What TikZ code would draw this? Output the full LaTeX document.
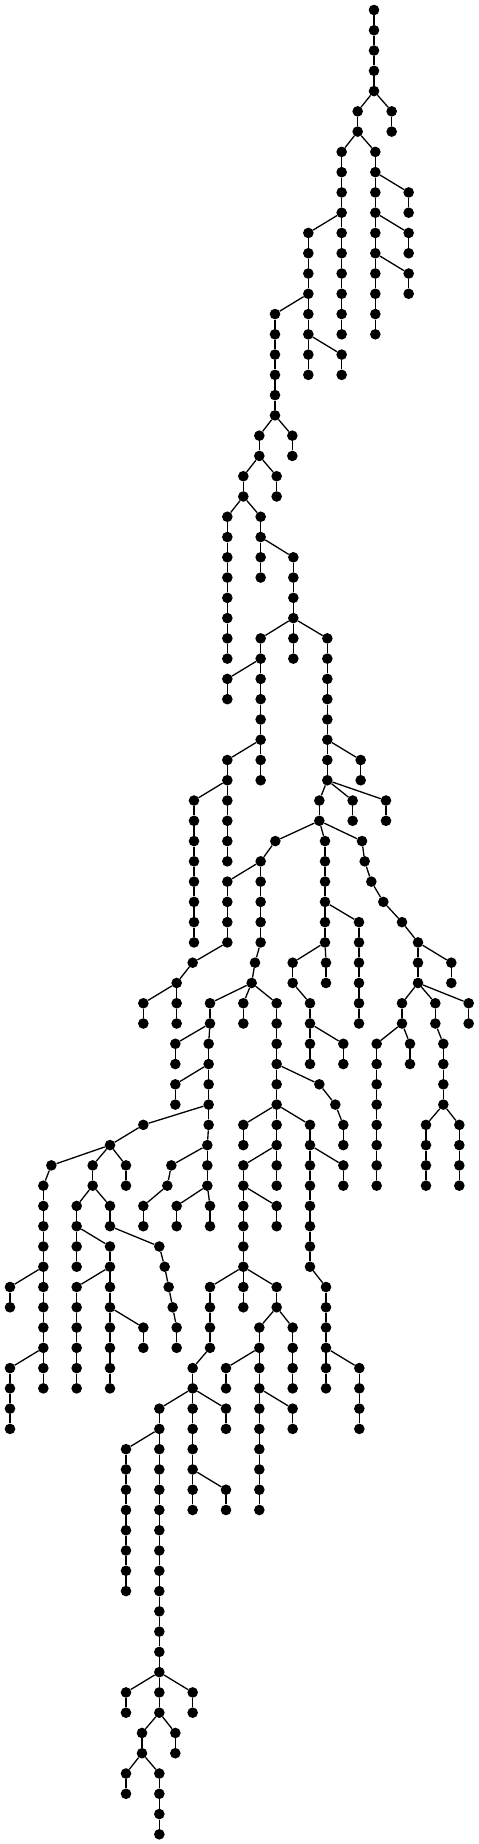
\documentclass[tikz,border=0pt]{standalone}
\usetikzlibrary{calc}
\tikzset{
  dot/.style={circle,fill=black,draw=none,inner sep=0pt,minimum size=10.6pt},
  edge/.style={draw=black,line width=1.3pt}
}
\newcommand\dotchain[3]{%
  \foreach \l in {#2,...,#3} {%
    \node[dot] (n#1x\l) at ({#1/3},{10+20.27*\l}) {};
    \ifnum\l>#2\relax
      \pgfmathtruncatemacro\p{\l-1}%
      \draw[edge] (n#1x\p) -- (n#1x\l);
    \fi
  }%
}
\newcommand\lnk[4]{\draw[edge] (n#1x#2) -- (n#3x#4);}
\begin{document}
\begin{tikzpicture}[x=1pt,y=-1pt]
\useasboundingbox (0,0) rectangle (479,1844);
\dotchain{1122}{0}{4}
\dotchain{1073}{5}{6}
\dotchain{1175}{5}{6}
\dotchain{1025}{7}{16}
\dotchain{1126}{7}{16}
\dotchain{1226}{9}{10}
\dotchain{1226}{11}{12}
\dotchain{1226}{13}{14}
\dotchain{925}{11}{18}
\dotchain{1025}{17}{18}
\dotchain{825}{15}{20}
\dotchain{877}{21}{22}
\dotchain{778}{21}{22}
\dotchain{730}{23}{24}
\dotchain{830}{23}{24}
\dotchain{682}{25}{32}
\dotchain{782}{25}{28}
\dotchain{880}{27}{32}
\dotchain{782}{31}{38}
\dotchain{682}{33}{34}
\dotchain{982}{31}{38}
\dotchain{1082}{37}{38}
\dotchain{682}{37}{42}
\dotchain{582}{39}{46}
\dotchain{958}{39}{40}
\dotchain{1058}{39}{40}
\dotchain{1158}{39}{40}
\dotchain{826}{41}{41}
\dotchain{782}{42}{46}
\dotchain{682}{43}{46}
\dotchain{975}{41}{46}
\dotchain{1077}{45}{50}
\dotchain{1086}{41}{41}
\dotchain{1094}{42}{42}
\dotchain{1114}{43}{43}
\dotchain{1150}{44}{44}
\dotchain{1206}{45}{45}
\dotchain{1254}{46}{48}
\dotchain{578}{47}{47}
\dotchain{530}{48}{50}
\dotchain{430}{49}{50}
\dotchain{765}{47}{47}
\dotchain{755}{48}{48}
\dotchain{630}{49}{50}
\dotchain{730}{49}{50}
\dotchain{830}{49}{58}
\dotchain{526}{51}{52}
\dotchain{626}{51}{55}
\dotchain{622}{56}{58}
\dotchain{526}{53}{54}
\dotchain{430}{55}{55}
\dotchain{330}{56}{56}
\dotchain{154}{57}{57}
\dotchain{130}{58}{68}
\dotchain{278}{57}{58}
\dotchain{378}{57}{58}
\dotchain{230}{59}{62}
\dotchain{330}{59}{60}
\dotchain{330}{61}{68}
\dotchain{478}{61}{61}
\dotchain{494}{62}{62}
\dotchain{506}{63}{63}
\dotchain{518}{64}{64}
\dotchain{530}{65}{66}
\dotchain{514}{57}{57}
\dotchain{502}{58}{58}
\dotchain{430}{59}{60}
\dotchain{530}{59}{60}
\dotchain{630}{59}{60}
\dotchain{730}{55}{56}
\dotchain{730}{57}{64}
\dotchain{830}{59}{60}
\dotchain{930}{55}{62}
\dotchain{1030}{57}{58}
\dotchain{958}{53}{53}
\dotchain{1006}{54}{54}
\dotchain{1030}{55}{56}
\dotchain{878}{47}{48}
\dotchain{930}{49}{52}
\dotchain{1030}{51}{52}
\dotchain{978}{47}{48}
\dotchain{1354}{47}{48}
\dotchain{1206}{49}{50}
\dotchain{1306}{49}{50}
\dotchain{1330}{51}{54}
\dotchain{1406}{49}{50}
\dotchain{1130}{51}{58}
\dotchain{1230}{51}{52}
\dotchain{1278}{55}{58}
\dotchain{1378}{55}{58}
\dotchain{30}{63}{64}
\dotchain{30}{67}{70}
\dotchain{230}{63}{68}
\dotchain{430}{65}{66}
\dotchain{630}{63}{66}
\dotchain{578}{67}{74}
\dotchain{830}{63}{64}
\dotchain{778}{65}{74}
\dotchain{878}{65}{68}
\dotchain{678}{67}{68}
\dotchain{978}{63}{68}
\dotchain{1078}{67}{70}
\dotchain{478}{69}{84}
\dotchain{378}{71}{78}
\dotchain{678}{69}{70}
\dotchain{678}{73}{74}
\dotchain{878}{69}{70}
\dotchain{378}{83}{84}
\dotchain{578}{83}{84}
\dotchain{426}{85}{86}
\dotchain{526}{85}{86}
\dotchain{378}{87}{88}
\dotchain{478}{87}{90}
% branch links
\lnk{1122}{4}{1073}{5}
\lnk{1122}{4}{1175}{5}
\lnk{1073}{6}{1025}{7}
\lnk{1073}{6}{1126}{7}
\lnk{1126}{8}{1226}{9}
\lnk{1126}{10}{1226}{11}
\lnk{1126}{12}{1226}{13}
\lnk{1025}{10}{925}{11}
\lnk{925}{14}{825}{15}
\lnk{925}{16}{1025}{17}
\lnk{825}{20}{778}{21}
\lnk{825}{20}{877}{21}
\lnk{778}{22}{730}{23}
\lnk{778}{22}{830}{23}
\lnk{730}{24}{682}{25}
\lnk{730}{24}{782}{25}
\lnk{782}{26}{880}{27}
\lnk{880}{30}{782}{31}
\lnk{880}{30}{982}{31}
\lnk{782}{32}{682}{33}
\lnk{782}{36}{682}{37}
\lnk{982}{36}{1082}{37}
\lnk{682}{38}{582}{39}
\lnk{982}{38}{958}{39}
\lnk{982}{38}{1058}{39}
\lnk{982}{38}{1158}{39}
\lnk{958}{40}{826}{41}
\lnk{958}{40}{975}{41}
\lnk{958}{40}{1086}{41}
\lnk{826}{41}{782}{42}
\lnk{782}{42}{682}{43}
\lnk{975}{44}{1077}{45}
\lnk{1086}{41}{1094}{42}
\lnk{1094}{42}{1114}{43}
\lnk{1114}{43}{1150}{44}
\lnk{1150}{44}{1206}{45}
\lnk{1206}{45}{1254}{46}
\lnk{682}{46}{578}{47}
\lnk{578}{47}{530}{48}
\lnk{530}{48}{430}{49}
\lnk{782}{46}{765}{47}
\lnk{765}{47}{755}{48}
\lnk{755}{48}{630}{49}
\lnk{755}{48}{730}{49}
\lnk{755}{48}{830}{49}
\lnk{630}{50}{526}{51}
\lnk{630}{50}{626}{51}
\lnk{626}{52}{526}{53}
\lnk{830}{52}{958}{53}
\lnk{958}{53}{1006}{54}
\lnk{1006}{54}{1030}{55}
\lnk{975}{46}{878}{47}
\lnk{975}{46}{978}{47}
\lnk{878}{48}{930}{49}
\lnk{930}{50}{1030}{51}
\lnk{1254}{46}{1354}{47}
\lnk{1254}{48}{1206}{49}
\lnk{1254}{48}{1306}{49}
\lnk{1254}{48}{1406}{49}
\lnk{1206}{50}{1130}{51}
\lnk{1206}{50}{1230}{51}
\lnk{1306}{50}{1330}{51}
\lnk{626}{54}{430}{55}
\lnk{626}{55}{622}{56}
\lnk{622}{56}{514}{57}
\lnk{514}{57}{502}{58}
\lnk{502}{58}{430}{59}
\lnk{622}{58}{530}{59}
\lnk{622}{58}{630}{59}
\lnk{430}{55}{330}{56}
\lnk{330}{56}{154}{57}
\lnk{330}{56}{278}{57}
\lnk{330}{56}{378}{57}
\lnk{154}{57}{130}{58}
\lnk{278}{58}{230}{59}
\lnk{278}{58}{330}{59}
\lnk{230}{60}{330}{61}
\lnk{330}{60}{478}{61}
\lnk{478}{61}{494}{62}
\lnk{494}{62}{506}{63}
\lnk{506}{63}{518}{64}
\lnk{518}{64}{530}{65}
\lnk{830}{54}{730}{55}
\lnk{830}{54}{930}{55}
\lnk{830}{56}{730}{57}
\lnk{730}{58}{830}{59}
\lnk{930}{56}{1030}{57}
\lnk{1330}{54}{1278}{55}
\lnk{1330}{54}{1378}{55}
\lnk{130}{62}{30}{63}
\lnk{130}{66}{30}{67}
\lnk{330}{62}{230}{63}
\lnk{330}{64}{430}{65}
\lnk{730}{62}{630}{63}
\lnk{730}{62}{830}{63}
\lnk{630}{66}{578}{67}
\lnk{578}{68}{478}{69}
\lnk{578}{68}{678}{69}
\lnk{830}{64}{778}{65}
\lnk{830}{64}{878}{65}
\lnk{778}{66}{678}{67}
\lnk{778}{68}{878}{69}
\lnk{930}{62}{978}{63}
\lnk{978}{66}{1078}{67}
\lnk{478}{70}{378}{71}
\lnk{578}{72}{678}{73}
\lnk{478}{82}{378}{83}
\lnk{478}{82}{578}{83}
\lnk{478}{84}{426}{85}
\lnk{478}{84}{526}{85}
\lnk{426}{86}{378}{87}
\lnk{426}{86}{478}{87}
\end{tikzpicture}
\end{document}
